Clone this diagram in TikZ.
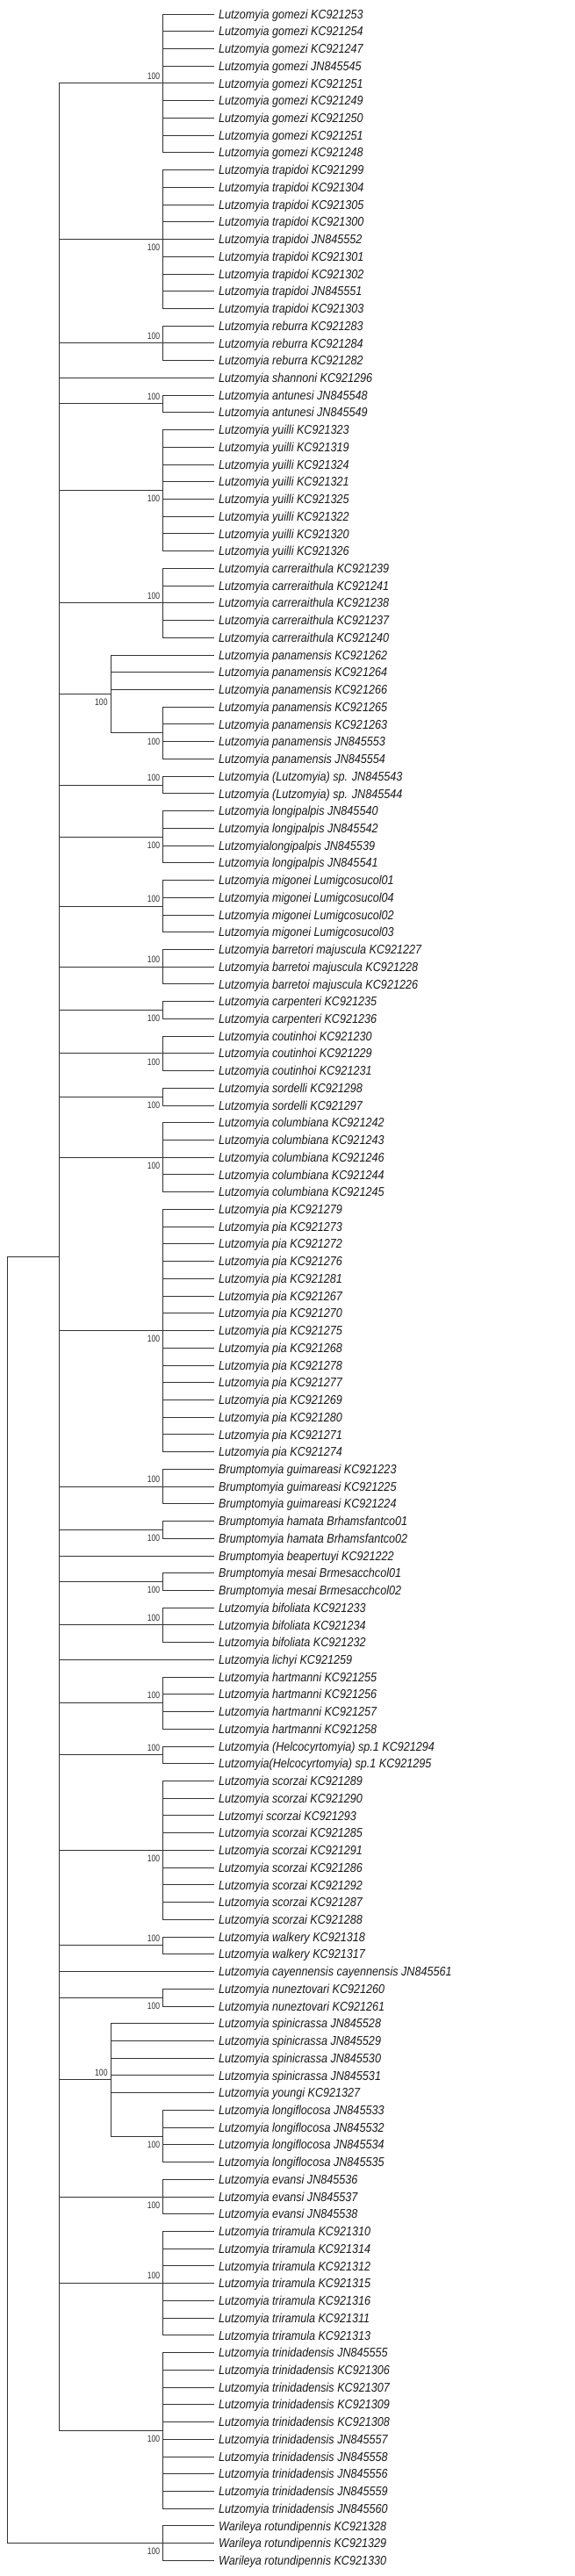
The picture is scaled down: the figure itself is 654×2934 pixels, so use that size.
\documentclass[tikz,border=0pt]{standalone}
\usepackage{fontspec}
\setmainfont{Liberation Sans}
\newfontfamily\leaffont[FakeStretch=0.875]{Liberation Sans}
\newfontfamily\bootfont[FakeStretch=0.8]{Liberation Sans}
\usepackage{tikz}

\begin{document}
\begin{tikzpicture}[x=1pt, y=-1pt, line width=0.9pt, color=black!80,
  declare function={ly(\k)=16+19.73*(\k-1);},
  leaf/.style={anchor=west, inner xsep=4.7pt, inner ysep=0pt, text height=10.3pt, text depth=0pt,
    font=\leaffont\itshape\fontsize{14.4}{16}\selectfont, text=black!90},
  boot/.style={anchor=east, inner sep=0pt, xshift=-3pt, font=\bootfont\fontsize{10.75}{12}\selectfont},
  bootup/.style={boot, yshift=8.5pt},
  bootdown/.style={boot, yshift=-9.5pt}]

\useasboundingbox (0,0) rectangle (654,2934);

% leaves, top to bottom
\foreach \txt [count=\i] in {
  Lutzomyia gomezi KC921253, Lutzomyia gomezi KC921254, Lutzomyia gomezi KC921247,
  Lutzomyia gomezi JN845545, Lutzomyia gomezi KC921251, Lutzomyia gomezi KC921249,
  Lutzomyia gomezi KC921250, Lutzomyia gomezi KC921251, Lutzomyia gomezi KC921248,
  Lutzomyia trapidoi KC921299, Lutzomyia trapidoi KC921304, Lutzomyia trapidoi KC921305,
  Lutzomyia trapidoi KC921300, Lutzomyia trapidoi JN845552, Lutzomyia trapidoi KC921301,
  Lutzomyia trapidoi KC921302, Lutzomyia trapidoi JN845551, Lutzomyia trapidoi KC921303,
  Lutzomyia reburra KC921283, Lutzomyia reburra KC921284, Lutzomyia reburra KC921282,
  Lutzomyia shannoni KC921296,
  Lutzomyia antunesi JN845548, Lutzomyia antunesi JN845549,
  Lutzomyia yuilli KC921323, Lutzomyia yuilli KC921319, Lutzomyia yuilli KC921324,
  Lutzomyia yuilli KC921321, Lutzomyia yuilli KC921325, Lutzomyia yuilli KC921322,
  Lutzomyia yuilli KC921320, Lutzomyia yuilli KC921326,
  Lutzomyia carreraithula KC921239, Lutzomyia carreraithula KC921241,
  Lutzomyia carreraithula KC921238, Lutzomyia carreraithula KC921237,
  Lutzomyia carreraithula KC921240,
  Lutzomyia panamensis KC921262, Lutzomyia panamensis KC921264, Lutzomyia panamensis KC921266,
  Lutzomyia panamensis KC921265, Lutzomyia panamensis KC921263, Lutzomyia panamensis JN845553,
  Lutzomyia panamensis JN845554,
  Lutzomyia (Lutzomyia) sp. JN845543, Lutzomyia (Lutzomyia) sp. JN845544,
  Lutzomyia longipalpis JN845540, Lutzomyia longipalpis JN845542,
  Lutzomyialongipalpis JN845539, Lutzomyia longipalpis JN845541,
  Lutzomyia migonei Lumigcosucol01, Lutzomyia migonei Lumigcosucol04,
  Lutzomyia migonei Lumigcosucol02, Lutzomyia migonei Lumigcosucol03,
  Lutzomyia barretori majuscula KC921227, Lutzomyia barretoi majuscula KC921228,
  Lutzomyia barretoi majuscula KC921226,
  Lutzomyia carpenteri KC921235, Lutzomyia carpenteri KC921236,
  Lutzomyia coutinhoi KC921230, Lutzomyia coutinhoi KC921229, Lutzomyia coutinhoi KC921231,
  Lutzomyia sordelli KC921298, Lutzomyia sordelli KC921297,
  Lutzomyia columbiana KC921242, Lutzomyia columbiana KC921243, Lutzomyia columbiana KC921246,
  Lutzomyia columbiana KC921244, Lutzomyia columbiana KC921245,
  Lutzomyia pia KC921279, Lutzomyia pia KC921273, Lutzomyia pia KC921272,
  Lutzomyia pia KC921276, Lutzomyia pia KC921281, Lutzomyia pia KC921267,
  Lutzomyia pia KC921270, Lutzomyia pia KC921275, Lutzomyia pia KC921268,
  Lutzomyia pia KC921278, Lutzomyia pia KC921277, Lutzomyia pia KC921269,
  Lutzomyia pia KC921280, Lutzomyia pia KC921271, Lutzomyia pia KC921274,
  Brumptomyia guimareasi KC921223, Brumptomyia guimareasi KC921225,
  Brumptomyia guimareasi KC921224,
  Brumptomyia hamata Brhamsfantco01, Brumptomyia hamata Brhamsfantco02,
  Brumptomyia beapertuyi KC921222,
  Brumptomyia mesai Brmesacchcol01, Brumptomyia mesai Brmesacchcol02,
  Lutzomyia bifoliata KC921233, Lutzomyia bifoliata KC921234, Lutzomyia bifoliata KC921232,
  Lutzomyia lichyi KC921259,
  Lutzomyia hartmanni KC921255, Lutzomyia hartmanni KC921256,
  Lutzomyia hartmanni KC921257, Lutzomyia hartmanni KC921258,
  Lutzomyia (Helcocyrtomyia) sp.1 KC921294, Lutzomyia(Helcocyrtomyia) sp.1 KC921295,
  Lutzomyia scorzai KC921289, Lutzomyia scorzai KC921290, Lutzomyi scorzai KC921293,
  Lutzomyia scorzai KC921285, Lutzomyia scorzai KC921291, Lutzomyia scorzai KC921286,
  Lutzomyia scorzai KC921292, Lutzomyia scorzai KC921287, Lutzomyia scorzai KC921288,
  Lutzomyia walkery KC921318, Lutzomyia walkery KC921317,
  Lutzomyia cayennensis cayennensis JN845561,
  Lutzomyia nuneztovari KC921260, Lutzomyia nuneztovari KC921261,
  Lutzomyia spinicrassa JN845528, Lutzomyia spinicrassa JN845529,
  Lutzomyia spinicrassa JN845530, Lutzomyia spinicrassa JN845531,
  Lutzomyia youngi KC921327,
  Lutzomyia longiflocosa JN845533, Lutzomyia longiflocosa JN845532,
  Lutzomyia longiflocosa JN845534, Lutzomyia longiflocosa JN845535,
  Lutzomyia evansi JN845536, Lutzomyia evansi JN845537, Lutzomyia evansi JN845538,
  Lutzomyia triramula KC921310, Lutzomyia triramula KC921314, Lutzomyia triramula KC921312,
  Lutzomyia triramula KC921315, Lutzomyia triramula KC921316, Lutzomyia triramula KC921311,
  Lutzomyia triramula KC921313,
  Lutzomyia trinidadensis JN845555, Lutzomyia trinidadensis KC921306,
  Lutzomyia trinidadensis KC921307, Lutzomyia trinidadensis KC921309,
  Lutzomyia trinidadensis KC921308, Lutzomyia trinidadensis JN845557,
  Lutzomyia trinidadensis JN845558, Lutzomyia trinidadensis JN845556,
  Lutzomyia trinidadensis JN845559, Lutzomyia trinidadensis JN845560,
  Warileya rotundipennis KC921328, Warileya rotundipennis KC921329,
  Warileya rotundipennis KC921330}
  \node[leaf] (l\i) at (244,{ly(\i)}) {\txt};

% root and the two main branches
\coordinate (ingroup) at (67.7,{ly(72.75)});
\coordinate (warileya) at (185.7,{ly(147)});
\coordinate (root) at (8.5,{ly((72.75+147)/2)});
\draw (root) |- (ingroup);
\draw (root) |- (warileya);
\foreach \i in {146,...,148} \draw (warileya) |- (l\i.west);
\node[bootdown] at (warileya) {100};

% single leaves on the polytomy
\foreach \i in {22,90,96,114} \draw (ingroup) |- (l\i.west);

% clades hanging from the polytomy
\foreach \nm/\a/\b/\pos in {gomezi/1/9/bootup, trapidoi/10/18/bootdown, reburra/19/21/bootup,
    antunesi/23/24/bootup, yuilli/25/32/bootdown, carreraithula/33/37/bootup,
    lutzsp/45/46/bootup, longipalpis/47/50/bootdown, migonei/51/54/bootup,
    barretoi/55/57/bootup, carpenteri/58/59/bootdown, coutinhoi/60/62/bootdown,
    sordelli/63/64/bootdown, columbiana/65/69/bootdown, pia/70/84/bootdown,
    guimareasi/85/87/bootup, hamata/88/89/bootdown, mesai/91/92/bootdown,
    bifoliata/93/95/bootup, hartmanni/97/100/bootup, helcocyrt/101/102/bootup,
    scorzai/103/111/bootdown, walkery/112/113/bootup, nuneztovari/115/116/bootdown,
    evansi/126/128/bootdown, triramula/129/135/bootup, trinidadensis/136/145/bootdown}{
  \coordinate (\nm) at (185.7,{ly((\a+\b)/2)});
  \draw (ingroup) |- (\nm);
  \foreach \i in {\a,...,\b} \draw (\nm) |- (l\i.west);
  \node[\pos] at (\nm) {100};
}

% panamensis, two levels
\coordinate (panamensis) at (126,{ly(40.25)});
\coordinate (panamin) at (185.7,{ly(42.5)});
\draw (ingroup) |- (panamensis);
\draw (panamensis) |- (panamin);
\foreach \i in {38,...,40} \draw (panamensis) |- (l\i.west);
\foreach \i in {41,...,44} \draw (panamin) |- (l\i.west);
\node[bootdown] at (panamensis) {100};
\node[bootdown] at (panamin) {100};

% spinicrassa + youngi + longiflocosa
\coordinate (spinicrassa) at (126,{ly(120.25)});
\coordinate (longiflocosa) at (185.7,{ly(123.5)});
\draw (ingroup) |- (spinicrassa);
\draw (spinicrassa) |- (longiflocosa);
\foreach \i in {117,...,121} \draw (spinicrassa) |- (l\i.west);
\foreach \i in {122,...,125} \draw (longiflocosa) |- (l\i.west);
\node[bootup] at (spinicrassa) {100};
\node[bootdown] at (longiflocosa) {100};

\end{tikzpicture}
\end{document}
